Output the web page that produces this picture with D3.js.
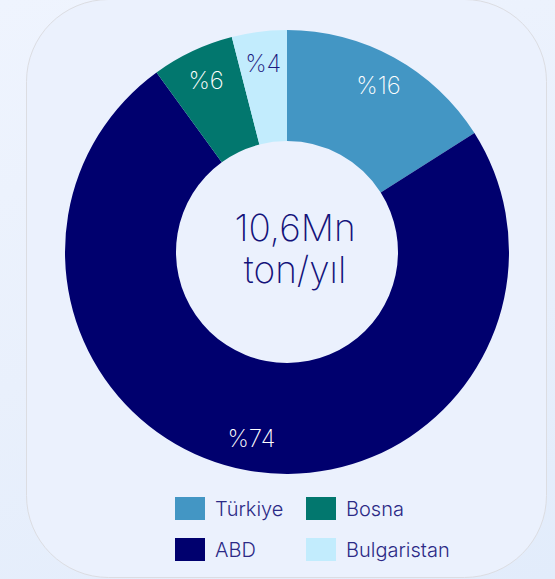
<!DOCTYPE html>
<html>
<head>
<meta charset="utf-8">
<script src="https://cdn.jsdelivr.net/npm/d3@7"></script>
<style>
  html, body { margin: 0; padding: 0; }
  body { width: 555px; height: 579px; overflow: hidden; background: linear-gradient(160deg, #eff4fe 0%, #e9f0fc 50%, #e2ecfb 100%); }
  svg { display: block; font-family: Inter, "Noto Sans", sans-serif; }
</style>
</head>
<body>
<svg id="chart" width="555" height="579"></svg>
<script>
const countries = ["Türkiye", "ABD", "Bosna", "Bulgaristan"];
const shares = [16, 74, 6, 4];
const sliceColors = ["#4396c4", "#00006e", "#02776e", "#c2ecfd"];
const labelColors = ["#ffffff", "#ffffff", "#ffffff", "#1c1a80"];
const centerLines = ["10,6Mn", "ton/yıl"];

const svg = d3.select("#chart");

// card
svg.append("rect")
    .attr("x", 26.5).attr("y", -0.5)
    .attr("width", 520).attr("height", 578)
    .attr("rx", 82).attr("ry", 82)
    .attr("fill", "#ebf1fd")
    .attr("stroke", "#dcdde2")
    .attr("stroke-width", 1);

const cx = 287, cy = 252;
const outerR = 222, innerR = 111;

const pie = d3.pie().sort(null).value(d => d);
const arcs = pie(shares);
const arc = d3.arc().innerRadius(innerR).outerRadius(outerR);
const labelArc = d3.arc().innerRadius(190).outerRadius(190);

const donut = svg.append("g").attr("transform", `translate(${cx},${cy})`);

donut.selectAll("path")
    .data(arcs)
    .enter()
    .append("path")
    .attr("d", arc)
    .attr("fill", (d, i) => sliceColors[i]);

donut.selectAll("text.pct")
    .data(arcs)
    .enter()
    .append("text")
    .attr("class", "pct")
    .attr("transform", d => `translate(${labelArc.centroid(d)})`)
    .attr("text-anchor", "middle")
    .attr("dy", ".36em")
    .attr("font-size", 24)
    .attr("font-weight", 200)
    .attr("fill", (d, i) => labelColors[i])
    .text(d => "%" + d.data);

donut.selectAll("text.center")
    .data(centerLines)
    .enter()
    .append("text")
    .attr("class", "center")
    .attr("text-anchor", "middle")
    .attr("x", 8)
    .attr("y", (d, i) => i === 0 ? -11 : 31)
    .attr("font-size", 37)
    .attr("font-weight", 200)
    .attr("fill", "#14137a")
    .text(d => d);

// legend, two columns filled top to bottom
const legend = svg.append("g").attr("transform", "translate(175,497)");
const item = legend.selectAll("g")
    .data(countries)
    .enter()
    .append("g")
    .attr("transform", (d, i) => `translate(${Math.floor(i / 2) * 131},${(i % 2) * 41})`);

item.append("rect")
    .attr("width", 30)
    .attr("height", 23)
    .attr("fill", (d, i) => sliceColors[i]);

item.append("text")
    .attr("x", 40)
    .attr("y", 19)
    .attr("font-size", 20)
    .attr("font-weight", 300)
    .attr("fill", "#2b2a86")
    .text(d => d);
</script>
</body>
</html>
